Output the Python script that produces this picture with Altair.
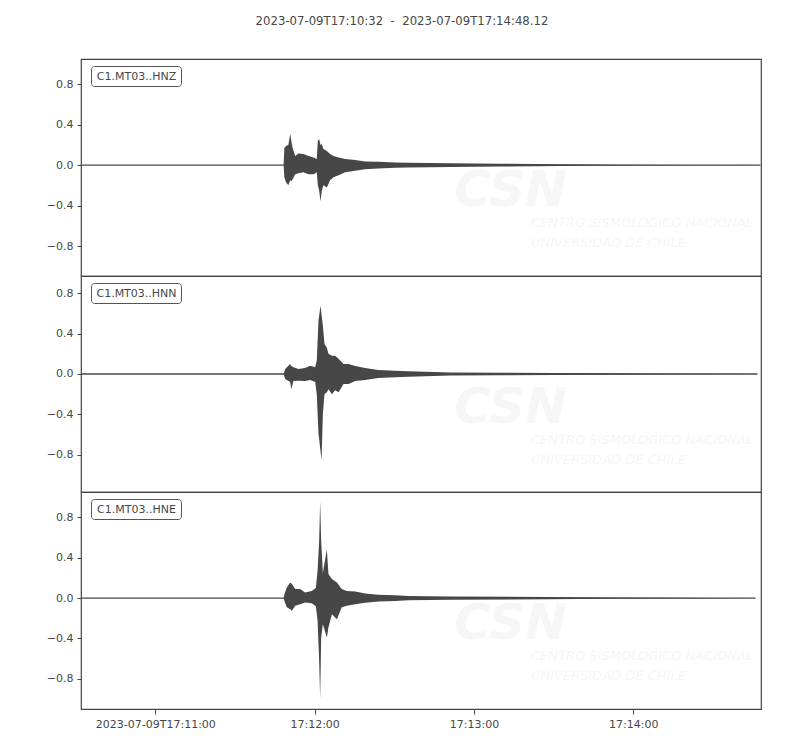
import altair as alt
import pandas as pd

# ---------------- data ----------------
title_text = "2023-07-09T17:10:32\u00a0\u00a0-\u00a0\u00a02023-07-09T17:14:48.12"
channels = ["C1.MT03..HNZ", "C1.MT03..HNN", "C1.MT03..HNE"]
y_domains = [[-1.096, 1.049], [-1.168, 0.970], [-1.099, 1.052]]
y_ticks = [-0.8, -0.4, 0.0, 0.4, 0.8]
tick_minutes = [11, 12, 13, 14]

# time in seconds after 2023-07-09T17:11:00, envelope (upper / lower) of the trace
hnz_t = [-28, 48.3, 48.6, 49.2, 50.1, 50.8, 51.2, 51.7, 52.7, 53.9, 55.8, 57.7, 59.6, 60.8,
         61.2, 61.7, 62.2, 62.7, 63.3, 64.6, 65.8, 67.1, 69.0, 71.5, 75.3, 79.0, 84.0,
         90.3, 95.3, 111.2, 130.0, 152.6, 175.2, 205.3, 227.9]
hnz_up = [0, 0, 0.17, 0.19, 0.20, 0.31, 0.24, 0.17, 0.09, 0.115, 0.11, 0.09, 0.076, 0.06,
          0.24, 0.255, 0.20, 0.21, 0.16, 0.14, 0.11, 0.09, 0.076, 0.06, 0.05, 0.036, 0.033,
          0.026, 0.023, 0.018, 0.014, 0.008, 0.004, 0.002, 0.0]
hnz_lo = [0, 0, -0.12, -0.17, -0.20, -0.15, -0.16, -0.14, -0.09, -0.08, -0.07, -0.09, -0.09, -0.07,
          -0.20, -0.25, -0.36, -0.25, -0.20, -0.22, -0.15, -0.12, -0.10, -0.07, -0.055, -0.04, -0.033,
          -0.026, -0.023, -0.018, -0.014, -0.008, -0.004, -0.002, 0.0]

hnn_t = [-28, 48.3, 48.9, 50.8, 51.2, 52.0, 53.9, 56.4, 58.3, 60.2, 60.8, 61.45, 62.2, 62.6,
         63.1, 63.7, 64.6, 65.2, 66.5, 67.7, 69.0, 70.9, 72.8, 75.3, 79.0, 84.0, 90.3, 95.3,
         111.2, 130.0, 167.7, 201.6, 226.8]
hnn_up = [0, 0, 0.049, 0.099, 0.08, 0.066, 0.05, 0.06, 0.082, 0.066, 0.13, 0.53, 0.675, 0.59,
          0.48, 0.30, 0.26, 0.20, 0.18, 0.18, 0.15, 0.10, 0.10, 0.08, 0.06, 0.04, 0.033, 0.026,
          0.016, 0.013, 0.008, 0.003, 0.0]
hnn_lo = [0, 0, -0.05, -0.08, -0.15, -0.07, -0.066, -0.07, -0.06, -0.08, -0.20, -0.59, -0.76, -0.856,
          -0.395, -0.20, -0.18, -0.15, -0.20, -0.16, -0.18, -0.10, -0.10, -0.07, -0.06, -0.04, -0.033, -0.026,
          -0.016, -0.013, -0.008, -0.003, 0.0]

hne_t = [-28, 48.3, 48.65, 49.5, 50.8, 51.4, 52.7, 54.55, 56.4, 58.9, 60.45, 61.1, 61.7, 62.08,
         62.46, 63.1, 64.6, 65.2, 66.5, 68.4, 70.2, 72.1, 75.3, 79.0, 84.0, 90.3, 95.3,
         111.2, 147.7, 171.4, 195.2, 226.1]
hne_up = [0, 0, 0.04, 0.105, 0.155, 0.14, 0.09, 0.09, 0.056, 0.07, 0.10, 0.27, 0.566, 0.955,
          0.566, 0.25, 0.484, 0.24, 0.19, 0.155, 0.09, 0.07, 0.066, 0.046, 0.033, 0.028, 0.022,
          0.016, 0.012, 0.006, 0.003, 0.0]
hne_lo = [0, 0, -0.03, -0.09, -0.11, -0.125, -0.076, -0.06, -0.043, -0.05, -0.08, -0.22, -0.62, -0.997,
          -0.39, -0.26, -0.39, -0.29, -0.16, -0.21, -0.09, -0.076, -0.06, -0.046, -0.033, -0.028, -0.022,
          -0.016, -0.012, -0.006, -0.003, 0.0]

traces = [(hnz_t, hnz_up, hnz_lo), (hnn_t, hnn_up, hnn_lo), (hne_t, hne_up, hne_lo)]
panel_heights = [217, 216, 217]

# ---------------- helpers ----------------
base_ms = pd.Timestamp("2023-07-09T17:11:00", tz="UTC").value // 10**6


def to_ms(s):
    return base_ms + s * 1000.0


INK = "#474747"
FONT = "DejaVu Sans"
WM = "#f6f6f6"

x_domain = [
    alt.DateTime(year=2023, month=7, date=9, hours=17, minutes=10, seconds=32, utc=True),
    alt.DateTime(year=2023, month=7, date=9, hours=17, minutes=14, seconds=48, milliseconds=120, utc=True),
]
x_values = [alt.DateTime(year=2023, month=7, date=9, hours=17, minutes=m, utc=True) for m in tick_minutes]


def panel(i):
    t, up, lo = traces[i]
    df = pd.DataFrame({"time": [to_ms(v) for v in t], "upper": up, "lower": lo})
    df_base = pd.DataFrame({"time": [to_ms(t[0]), to_ms(t[-1])], "val": [0.0, 0.0]})
    show_x = i == len(traces) - 1
    if show_x:
        xaxis = alt.Axis(
            values=x_values,
            labelExpr="datum.index == 0 ? utcFormat(datum.value, '%Y-%m-%dT%H:%M:%S') : utcFormat(datum.value, '%H:%M:%S')",
            grid=False, domain=False, ticks=True, tickColor=INK, tickSize=5,
            labelColor=INK, labelFont=FONT, labelFontSize=11, labelPadding=4,
            labelFlush=False, labelOverlap=False, title=None,
        )
    else:
        xaxis = None
    xscale = alt.Scale(type="utc", domain=x_domain, nice=False)
    yscale = alt.Scale(domain=y_domains[i], nice=False, zero=False)
    yaxis = alt.Axis(
        values=y_ticks,
        labelExpr="replace(format(datum.value, '.1f'), '-', '\u2212')",
        grid=False, domain=False, tickColor=INK, tickSize=4, labelColor=INK,
        labelFont=FONT, labelFontSize=11, labelPadding=4, minExtent=40, maxExtent=40,
        title=None,
    )
    x = alt.X("time:T", scale=xscale, axis=xaxis)

    wm_df = pd.DataFrame({"a": ["CSN"], "b": ["CENTRO SISMOLÓGICO NACIONAL"], "c": ["UNIVERSIDAD DE CHILE"],
                          "lab": [channels[i]]})
    wm1 = alt.Chart(wm_df).mark_text(
        font="DejaVu Sans", fontSize=50, fontWeight="bold", fontStyle="italic",
        color=WM, align="left", baseline="alphabetic",
    ).encode(text="a:N", x=alt.value(373), y=alt.value(147))
    wm2 = alt.Chart(wm_df).mark_text(
        font="DejaVu Sans", fontSize=13, fontStyle="italic", color=WM,
        align="left", baseline="alphabetic",
    ).encode(text="b:N", x=alt.value(450), y=alt.value(168))
    wm3 = alt.Chart(wm_df).mark_text(
        font="DejaVu Sans", fontSize=13, fontStyle="italic", color=WM,
        align="left", baseline="alphabetic",
    ).encode(text="c:N", x=alt.value(450), y=alt.value(188))

    area = alt.Chart(df).mark_area(color=INK, interpolate="linear", opacity=1).encode(
        x=x,
        y=alt.Y("upper:Q", scale=yscale, axis=yaxis),
        y2="lower:Q",
    )
    base = alt.Chart(df_base).mark_line(color=INK, strokeWidth=1.3).encode(
        x=alt.X("time:T", scale=xscale, axis=xaxis),
        y=alt.Y("val:Q", scale=yscale, axis=yaxis),
    )
    box = alt.Chart(wm_df).mark_rect(
        fill="white", stroke="#555555", strokeWidth=1, cornerRadius=3,
    ).encode(x=alt.value(10.5), x2=alt.value(100.5), y=alt.value(7.5), y2=alt.value(27.5))
    lab = alt.Chart(wm_df).mark_text(
        font=FONT, fontSize=11, color=INK, align="center", baseline="middle",
    ).encode(text="lab:N", x=alt.value(55.5), y=alt.value(17.5))

    return alt.layer(wm1, wm2, wm3, area, base, box, lab).properties(
        width=680, height=panel_heights[i]
    )


chart = alt.vconcat(*[panel(i) for i in range(3)], spacing=0, bounds="flush").properties(
    title=alt.Title(
        title_text, anchor="middle", font=FONT, fontSize=11.7, fontWeight="normal",
        color=INK, offset=31,
    ),
    padding={"left": 32, "top": 7, "right": 10, "bottom": 5},
).configure_view(stroke="#444444", strokeWidth=1.2)

chart.save("out.html", embed_options={"renderer": "svg", "actions": False})
